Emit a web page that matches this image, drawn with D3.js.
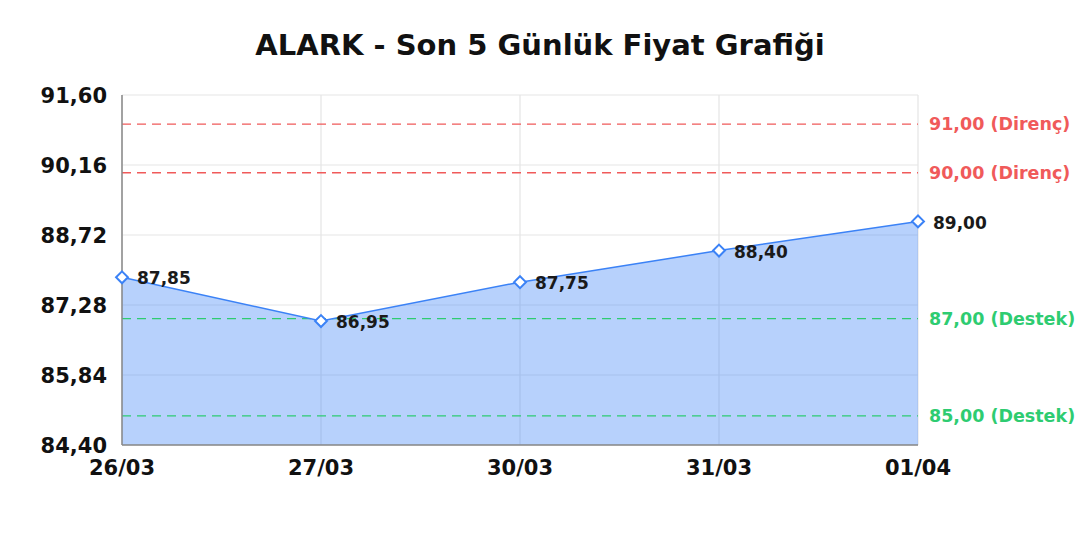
<!DOCTYPE html>
<html lang="tr">
<head>
<meta charset="UTF-8">
<title>ALARK - Son 5 Günlük Fiyat Grafiği</title>
<script src="https://d3js.org/d3.v7.min.js"></script>
<style>
    body { margin: 0; background: #fff; }
    text { font-family: 'DejaVu Sans', sans-serif; }
    .tick-label { font-size: 21px; font-weight: bold; fill: #111; }
    .value-label { font-size: 17px; font-weight: bold; fill: #1a1a1a; }
    .ref-label { font-size: 17.5px; font-weight: bold; }
</style>
</head>
<body>
<div id="chart"></div>
<script>
    const dates = ["26/03", "27/03", "30/03", "31/03", "01/04"];
    const prices = [87.85, 86.95, 87.75, 88.40, 89.00];
    const yTicks = [84.40, 85.84, 87.28, 88.72, 90.16, 91.60];
    const resistance = [91.00, 90.00];
    const support = [87.00, 85.00];

    const width = 1080, height = 540;
    const margin = { top: 95, right: 162, bottom: 95, left: 122 };
    const fmt = v => v.toFixed(2).replace(".", ",");

    const svg = d3.select("#chart").append("svg")
        .attr("width", width)
        .attr("height", height);

    const x = d3.scalePoint()
        .domain(dates)
        .range([margin.left, width - margin.right]);

    const y = d3.scaleLinear()
        .domain([84.40, 91.60])
        .range([height - margin.bottom, margin.top]);

    // Title
    svg.append("text")
        .attr("x", 540)
        .attr("y", 55)
        .attr("text-anchor", "middle")
        .attr("font-size", "29px")
        .attr("font-weight", "bold")
        .attr("fill", "#111")
        .text("ALARK - Son 5 Günlük Fiyat Grafiği");

    // Grid
    svg.append("g").selectAll("line")
        .data(yTicks)
        .enter().append("line")
        .attr("x1", margin.left).attr("x2", width - margin.right)
        .attr("y1", d => y(d)).attr("y2", d => y(d))
        .attr("stroke", "#e5e5e5").attr("stroke-width", 1.2);

    svg.append("g").selectAll("line")
        .data(dates)
        .enter().append("line")
        .attr("x1", d => x(d)).attr("x2", d => x(d))
        .attr("y1", margin.top).attr("y2", height - margin.bottom)
        .attr("stroke", "#e5e5e5").attr("stroke-width", 1.2);

    // Area + line
    const pts = dates.map((d, i) => ({ date: d, value: prices[i] }));

    const area = d3.area()
        .x(d => x(d.date))
        .y0(y(84.40))
        .y1(d => y(d.value));

    svg.append("path")
        .datum(pts)
        .attr("d", area)
        .attr("fill", "rgba(59,130,246,0.37)");

    // Reference lines
    const refs = resistance.map(v => ({ v, label: fmt(v) + " (Direnç)", color: "#f05a5a" }))
        .concat(support.map(v => ({ v, label: fmt(v) + " (Destek)", color: "#2ecc71" })));

    refs.forEach(r => {
        svg.append("line")
            .attr("x1", margin.left).attr("x2", width - margin.right)
            .attr("y1", y(r.v)).attr("y2", y(r.v))
            .attr("stroke", r.color)
            .attr("stroke-width", 1.4)
            .attr("stroke-dasharray", "9,6");
        svg.append("text")
            .attr("class", "ref-label")
            .attr("x", width - margin.right + 11)
            .attr("y", y(r.v))
            .attr("dy", "0.36em")
            .attr("fill", r.color)
            .text(r.label);
    });

    const line = d3.line()
        .x(d => x(d.date))
        .y(d => y(d.value));

    svg.append("path")
        .datum(pts)
        .attr("d", line)
        .attr("fill", "none")
        .attr("stroke", "#3b82f6")
        .attr("stroke-width", 1.5);

    // Axes lines
    svg.append("line")
        .attr("x1", margin.left).attr("x2", margin.left)
        .attr("y1", margin.top).attr("y2", height - margin.bottom)
        .attr("stroke", "#888").attr("stroke-width", 1.5);
    svg.append("line")
        .attr("x1", margin.left).attr("x2", width - margin.right)
        .attr("y1", height - margin.bottom).attr("y2", height - margin.bottom)
        .attr("stroke", "#888").attr("stroke-width", 1.5);

    // Markers
    svg.append("g").selectAll("path")
        .data(pts)
        .enter().append("path")
        .attr("d", d3.symbol().type(d3.symbolDiamond2).size(90))
        .attr("transform", d => `translate(${x(d.date)},${y(d.value)})`)
        .attr("fill", "#fff")
        .attr("stroke", "#3b82f6")
        .attr("stroke-width", 2);

    // Value labels
    svg.append("g").selectAll("text")
        .data(pts)
        .enter().append("text")
        .attr("class", "value-label")
        .attr("x", d => x(d.date) + 15)
        .attr("y", d => y(d.value) + 1)
        .attr("dy", "0.36em")
        .text(d => fmt(d.value));

    // Y tick labels
    svg.append("g").selectAll("text")
        .data(yTicks)
        .enter().append("text")
        .attr("class", "tick-label")
        .attr("x", margin.left - 15)
        .attr("y", d => y(d))
        .attr("dy", "0.36em")
        .attr("text-anchor", "end")
        .text(d => fmt(d));

    // X tick labels
    svg.append("g").selectAll("text")
        .data(dates)
        .enter().append("text")
        .attr("class", "tick-label")
        .attr("x", d => x(d))
        .attr("y", height - margin.bottom + 30)
        .attr("text-anchor", "middle")
        .text(d => d);
</script>
</body>
</html>
